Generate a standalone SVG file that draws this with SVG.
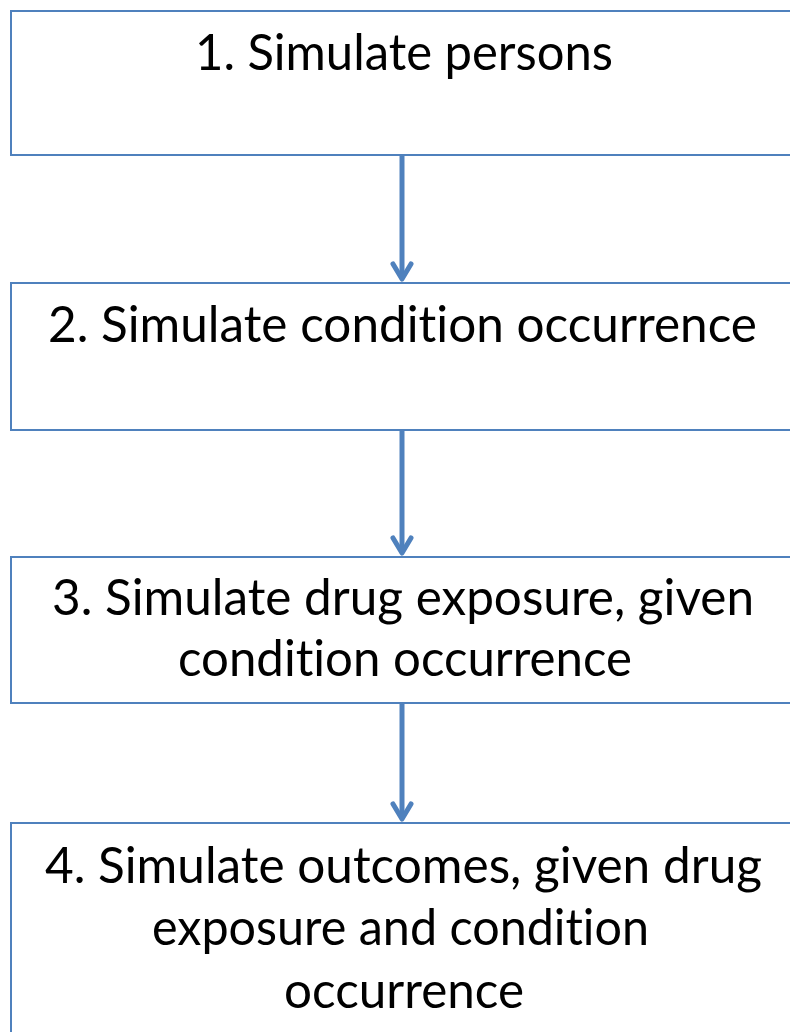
<svg xmlns="http://www.w3.org/2000/svg" width="790" height="1032" viewBox="0 0 790 1032">
  <defs>
    <style>
      .box { fill: #ffffff; stroke: #4f81bd; stroke-width: 2; }
      .label { font-family: "Lato", "Open Sans", "Liberation Sans", sans-serif; font-size: 51px; fill: #000000; font-variant-ligatures: none; font-feature-settings: "liga" 0, "clig" 0; }
      .link { stroke: #4f81bd; stroke-width: 5; fill: none; }
      .head { stroke: #4f81bd; stroke-width: 5; fill: none; stroke-linecap: round; stroke-linejoin: round; }
    </style>
  </defs>
  <rect width="790" height="1032" fill="#ffffff"/>

  <g id="step1">
    <rect class="box" x="11" y="11" width="800" height="144"/>
    <text class="label" x="195" y="70" textLength="418" lengthAdjust="spacingAndGlyphs">1. Simulate persons</text>
  </g>

  <g id="step2">
    <rect class="box" x="11" y="283" width="800" height="147"/>
    <text class="label" x="48" y="342" textLength="709" lengthAdjust="spacingAndGlyphs">2. Simulate condition occurrence</text>
  </g>

  <g id="step3">
    <rect class="box" x="11" y="557" width="800" height="146"/>
    <text class="label" x="52" y="615" textLength="702" lengthAdjust="spacingAndGlyphs">3. Simulate drug exposure, given</text>
    <text class="label" x="178" y="676" textLength="454" lengthAdjust="spacingAndGlyphs">condition occurrence</text>
  </g>

  <g id="step4">
    <rect class="box" x="11" y="823" width="800" height="230"/>
    <text class="label" x="45" y="883" textLength="717" lengthAdjust="spacingAndGlyphs">4. Simulate outcomes, given drug</text>
    <text class="label" x="152" y="945" textLength="497" lengthAdjust="spacingAndGlyphs">exposure and condition</text>
    <text class="label" x="284" y="1008" textLength="240" lengthAdjust="spacingAndGlyphs">occurrence</text>
  </g>

  <g id="connectors">
    <line class="link" x1="402" y1="156" x2="402" y2="279"/>
    <polyline class="head" points="393,264 402,279 411,264"/>
    <line class="link" x1="402" y1="431" x2="402" y2="553"/>
    <polyline class="head" points="393,538 402,553 411,538"/>
    <line class="link" x1="402" y1="704" x2="402" y2="819"/>
    <polyline class="head" points="393,804 402,819 411,804"/>
  </g>
</svg>
